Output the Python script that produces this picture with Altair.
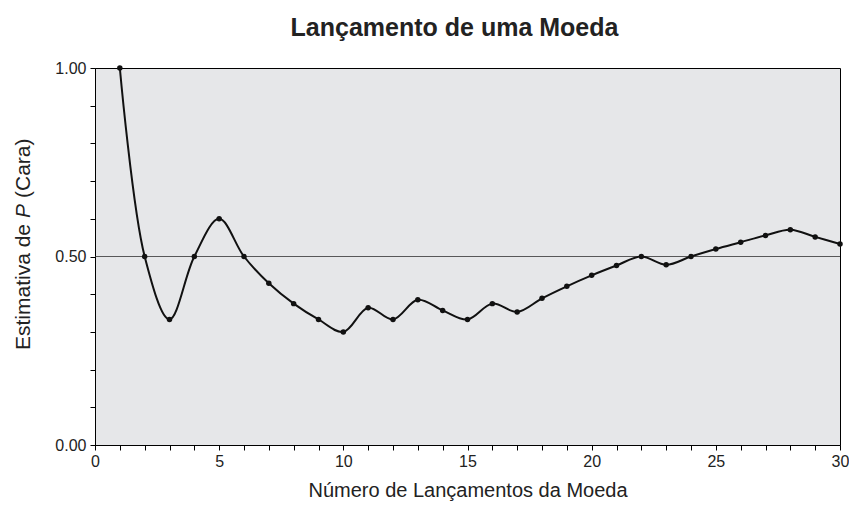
import altair as alt
import pandas as pd

tosses = list(range(1, 31))
estimate = [1.000, 0.500, 0.333, 0.500, 0.600, 0.500, 0.429, 0.375, 0.333, 0.300,
            0.364, 0.333, 0.385, 0.357, 0.333, 0.375, 0.353, 0.389, 0.421, 0.450,
            0.476, 0.500, 0.478, 0.500, 0.520, 0.538, 0.556, 0.571, 0.552, 0.533]
ref_level = [0.5]
y_ticks = [0.0, 0.1, 0.2, 0.3, 0.4, 0.5, 0.6, 0.7, 0.8, 0.9, 1.0]
x_ticks = list(range(0, 31))
y_title_parts = ["Estimativa de", "P", "(Cara)"]

df = pd.DataFrame({"n": tosses, "p": estimate})
ref = pd.DataFrame({"p": ref_level})

FONT = "Liberation Sans"

xs = alt.Scale(domain=[0, 30], nice=False, zero=False)
ys = alt.Scale(domain=[0, 1], nice=False)

x_axis = alt.Axis(values=x_ticks, title="Número de Lançamentos da Moeda",
                  labelExpr="datum.value % 5 == 0 ? datum.label : ''",
                  labelOverlap=False,
                  grid=False, tickSize=5, tickColor="#000", domainColor="#000",
                  labelFont=FONT, labelFontSize=16, labelColor="#222", labelPadding=3,
                  titleFont=FONT, titleFontSize=20, titleFontWeight="normal",
                  titleColor="#222", titlePadding=11, labelFlush=False)
y_axis = alt.Axis(values=y_ticks, title=None, format=".2f",
                  labelExpr="(datum.value == 0 || datum.value == 0.5 || datum.value == 1) ? datum.label : ''",
                  labelOverlap=False,
                  grid=False, tickSize=5, tickColor="#000", domainColor="#000",
                  labelFont=FONT, labelFontSize=16, labelColor="#222", labelPadding=4,
                  labelFlush=False)

base = alt.Chart(df)

rule = alt.Chart(ref).mark_rule(color="#333", strokeWidth=0.8).encode(
    y=alt.Y("p:Q", scale=ys, axis=y_axis))

line = base.mark_line(color="#111", strokeWidth=2, interpolate="catmull-rom").encode(
    x=alt.X("n:Q", scale=xs, axis=x_axis),
    y=alt.Y("p:Q", scale=ys, axis=y_axis))

pts = base.mark_circle(color="#111", size=30, opacity=1).encode(
    x=alt.X("n:Q", scale=xs, axis=x_axis),
    y=alt.Y("p:Q", scale=ys, axis=y_axis))

TX = -71
t1 = alt.Chart(pd.DataFrame({"t": [y_title_parts[0]]})).mark_text(
    angle=270, align="left", baseline="middle", font=FONT, fontSize=21, color="#222"
).encode(text="t:N", x=alt.value(TX), y=alt.value(282))
t2 = alt.Chart(pd.DataFrame({"t": [y_title_parts[1]]})).mark_text(
    angle=270, align="left", baseline="middle", font=FONT, fontSize=21,
    fontStyle="italic", color="#222"
).encode(text="t:N", x=alt.value(TX), y=alt.value(150))
t3 = alt.Chart(pd.DataFrame({"t": [y_title_parts[2]]})).mark_text(
    angle=270, align="left", baseline="middle", font=FONT, fontSize=21, color="#222"
).encode(text="t:N", x=alt.value(TX), y=alt.value(130))

chart = alt.layer(rule, line, pts, t1, t2, t3).properties(
    width=745, height=377,
    autosize=alt.AutoSizeParams(type="none"),
    padding={"left": 87, "top": 60, "right": 9, "bottom": 56},
    title=alt.TitleParams("Lançamento de uma Moeda", font=FONT, fontSize=25,
                          fontWeight="bold", color="#222", offset=19, dx=-13),
).configure(background="white").configure_axis(labelOverlap=False).configure_view(
    fill="#e6e7e9", stroke="#000", strokeWidth=1)

chart.save("out.html", embed_options={"renderer": "svg", "actions": False})
